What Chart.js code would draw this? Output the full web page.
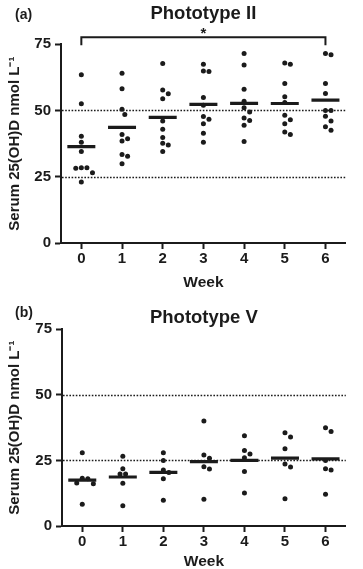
<!DOCTYPE html>
<html><head><meta charset="utf-8">
<script src="https://cdn.jsdelivr.net/npm/chart.js@4.4.0/dist/chart.umd.min.js"></script>
<style>
html,body{margin:0;padding:0;background:#fff;}
#wrap{position:relative;width:363px;height:569px;overflow:hidden;}
canvas{position:absolute;left:0;}
</style></head><body>
<div id="wrap">
<canvas id="ca" width="363" height="290" style="top:0;width:363px;height:290px"></canvas>
<canvas id="cb" width="363" height="279" style="top:290px;width:363px;height:279px"></canvas>
</div>
<script>
// ---- data ----
const weeks = [0, 1, 2, 3, 4, 5, 6];
const weekLabels = ['0', '1', '2', '3', '4', '5', '6'];
const yTicks = [0, 25, 50, 75];
const refLines = [25, 50];
const xTitle = 'Week';
const yTitle = 'Serum 25(OH)D nmol L\u207B\u00B9';

const titleII = 'Phototype II';
const tagII = '(a)';
const typeII = [
  [63.5, 52.5, 40.3, 38.0, 34.5, 28.4, 28.2, 28.4, 26.5, 23.0],
  [64.0, 58.2, 50.5, 48.5, 40.9, 39.3, 38.5, 33.4, 32.7, 29.9],
  [67.7, 57.7, 56.3, 54.4, 46.0, 42.9, 39.8, 37.6, 37.0, 34.5],
  [67.4, 64.7, 64.9, 54.9, 52.0, 47.7, 46.7, 45.0, 41.4, 38.0],
  [71.5, 67.2, 58.0, 53.5, 51.0, 49.4, 47.2, 46.2, 44.4, 38.3],
  [67.4, 67.9, 60.2, 55.2, 53.0, 48.2, 46.5, 45.0, 41.9, 40.9],
  [71.5, 71.0, 60.2, 56.4, 50.0, 50.0, 47.8, 46.0, 43.9, 42.5]
];
const bracketWeeks = [0, 6];
const bracketLabel = '*';

const titleV = 'Phototype V';
const tagV = '(b)';
const typeV = [
  [27.9, 18.2, 18.0, 16.4, 16.1, 8.3],
  [26.6, 21.8, 19.8, 19.8, 16.3, 7.7],
  [27.9, 25.0, 21.3, 20.4, 18.0, 9.8],
  [40.0, 27.1, 25.8, 22.6, 21.7, 10.2],
  [34.4, 28.8, 27.4, 26.0, 20.8, 12.6],
  [35.5, 33.9, 29.4, 23.6, 22.5, 10.4],
  [37.4, 36.0, 25.0, 21.8, 21.3, 12.1]
];

// ---- helpers ----
const INK = '#1b1b1b';
const FAM = "'Liberation Sans', Arial, Helvetica, sans-serif";
Chart.defaults.font.family = FAM;
Chart.defaults.color = INK;

// simple beeswarm: horizontal offsets (in week units) so dots don't overlap
function swarm(vals, pxPerUnit, pxPerWeek, D) {
  const order = vals.map((v, i) => i).sort((a, b) => vals[b] - vals[a]);
  const placed = [];
  const off = new Array(vals.length).fill(0);
  for (const i of order) {
    const y = vals[i] * pxPerUnit;
    for (let k = 0; k < 40; k++) {
      const c = k === 0 ? 0 : (k % 2 ? 1 : -1) * Math.ceil(k / 2) * D / 2;
      if (placed.every(p => Math.hypot(p.x - c, p.y - y) >= D)) {
        placed.push({x: c, y}); off[i] = c / pxPerWeek; break;
      }
    }
  }
  return off;
}
const mean = a => a.reduce((s, v) => s + v, 0) / a.length;

const refPlugin = {
  id: 'refLines',
  beforeDatasetsDraw(chart) {
    const {ctx, chartArea: ca, scales: {y}} = chart;
    ctx.save();
    ctx.strokeStyle = INK; ctx.lineWidth = 1.6; ctx.setLineDash([1.6, 1.6]);
    refLines.forEach(v => {
      const py = Math.round(y.getPixelForValue(v)) + 0.5;
      ctx.beginPath(); ctx.moveTo(ca.left + 1, py); ctx.lineTo(ca.right, py); ctx.stroke();
    });
    ctx.restore();
  }
};

const panelPlugin = {
  id: 'panel',
  afterDraw(chart, args, o) {
    const {ctx, chartArea: ca, scales: {x}} = chart;
    ctx.save();
    ctx.fillStyle = INK;
    ctx.font = 'bold 14px ' + FAM;
    ctx.textBaseline = 'middle'; ctx.textAlign = 'left';
    ctx.fillText(o.tag, 15, o.tagY);
    if (o.bracket) {
      const x0 = x.getPixelForValue(o.bracket[0]);
      const x1 = x.getPixelForValue(o.bracket[1]);
      const yb = ca.top - 7;
      ctx.strokeStyle = INK; ctx.lineWidth = 2;
      ctx.beginPath();
      ctx.moveTo(x0, ca.top + 1); ctx.lineTo(x0, yb); ctx.lineTo(x1, yb); ctx.lineTo(x1, ca.top + 1);
      ctx.stroke();
      ctx.textAlign = 'center'; ctx.textBaseline = 'alphabetic';
      ctx.font = 'bold 15px ' + FAM;
      ctx.fillText(o.label, (x0 + x1) / 2, yb + 1);
    }
    ctx.restore();
  }
};

function makeChart(id, groups, title, titlePad, tag, tagY, axisH, yW, padRight, bracket) {
  const pts = [];
  const means = [];
  groups.forEach((vals, wi) => {
    const off = swarm(vals, 198 / 75, 42.4, 5.8);
    vals.forEach((v, j) => pts.push({x: weeks[wi] + off[j], y: v}));
    means.push({x: weeks[wi], y: mean(vals)});
  });
  return new Chart(document.getElementById(id), {
    type: 'scatter',
    data: {datasets: [
      {data: means, pointStyle: 'line', radius: 14, borderWidth: 3.2, borderColor: INK, backgroundColor: INK, hoverRadius: 14},
      {data: pts, pointStyle: 'circle', radius: 2.5, borderWidth: 0, backgroundColor: INK, hoverRadius: 2.5}
    ]},
    options: {
      responsive: false, animation: false, events: [],
      layout: {padding: {left: 0, right: padRight, top: 0, bottom: 0}},
      plugins: {
        legend: {display: false}, tooltip: {enabled: false},
        title: {display: true, text: title, fullSize: false, color: INK,
          font: {size: 18.5, weight: 'bold'}, padding: titlePad},
        panel: {tag, tagY, bracket: bracket ? bracketWeeks : null, label: bracketLabel}
      },
      scales: {
        x: {type: 'linear', min: -0.5, max: 6.5,
          afterBuildTicks: s => { s.ticks = weeks.map(v => ({value: v})); },
          afterFit: s => { s.height = axisH; },
          ticks: {callback: v => weekLabels[weeks.indexOf(v)], font: {size: 15, weight: 'bold'}, color: INK, padding: 1, maxRotation: 0},
          grid: {drawOnChartArea: false, drawTicks: true, tickLength: 6, tickWidth: 2, tickColor: INK},
          border: {display: true, color: INK, width: 2},
          title: {display: true, text: xTitle, color: INK, font: {size: 15.5, weight: 'bold', lineHeight: 1}, padding: {top: 0, bottom: 0}}
        },
        y: {min: 0, max: 75,
          afterBuildTicks: s => { s.ticks = yTicks.map(v => ({value: v})); },
          afterFit: s => { s.width = yW; },
          ticks: {font: {size: 15, weight: 'bold'}, color: INK, padding: 4},
          grid: {drawOnChartArea: false, drawTicks: true, tickLength: 6, tickWidth: 2, tickColor: INK},
          border: {display: true, color: INK, width: 2},
          title: {display: true, text: yTitle, color: INK, font: {size: 15, weight: 'bold'}, padding: {top: 6, bottom: 0}}
        }
      }
    },
    plugins: [refPlugin, panelPlugin]
  });
}

makeChart('ca', typeII, titleII, {top: 3, bottom: 19}, tagII, 15, 47, 61, 5, true);
makeChart('cb', typeV, titleV, {top: 17, bottom: 0}, tagV, 23, 43, 62, 4, false);
</script>
</body></html>
